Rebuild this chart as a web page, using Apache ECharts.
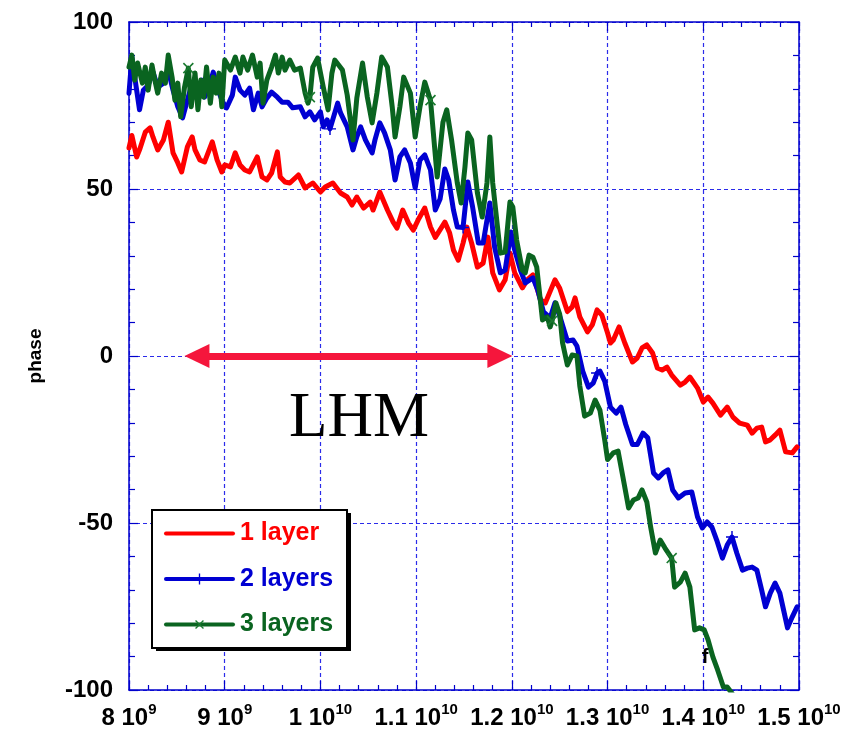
<!DOCTYPE html>
<html>
<head>
<meta charset="utf-8">
<script src="https://cdn.jsdelivr.net/npm/echarts@6/dist/echarts.min.js"></script>
<style>
  html, body { margin: 0; padding: 0; background: #ffffff; }
  #chart { width: 857px; height: 732px; }
</style>
</head>
<body>
<div id="chart"></div>
<script>
// Phase vs frequency for 1, 2 and 3 layers (frequencies in GHz, phase in degrees)
const freq1 = [8.00, 8.03, 8.08, 8.11, 8.17, 8.22, 8.25, 8.30, 8.36, 8.41, 8.46, 8.51, 8.55, 8.61, 8.66, 8.69, 8.74, 8.79, 8.87, 8.92, 8.97, 9.00, 9.06, 9.11, 9.16, 9.21, 9.26, 9.34, 9.39, 9.44, 9.49, 9.55, 9.58, 9.63, 9.68, 9.77, 9.84, 9.92, 10.00, 10.05, 10.13, 10.21, 10.28, 10.33, 10.38, 10.45, 10.52, 10.55, 10.62, 10.70, 10.76, 10.80, 10.86, 10.92, 10.97, 11.02, 11.09, 11.15, 11.20, 11.30, 11.35, 11.39, 11.44, 11.49, 11.53, 11.58, 11.64, 11.70, 11.75, 11.80, 11.87, 11.93, 11.98, 12.03, 12.11, 12.16, 12.22, 12.30, 12.35, 12.45, 12.50, 12.58, 12.63, 12.66, 12.71, 12.79, 12.84, 12.89, 12.94, 13.00, 13.03, 13.06, 13.12, 13.18, 13.26, 13.31, 13.36, 13.41, 13.47, 13.52, 13.57, 13.62, 13.67, 13.76, 13.81, 13.86, 13.94, 14.00, 14.05, 14.10, 14.18, 14.25, 14.31, 14.38, 14.46, 14.51, 14.56, 14.61, 14.65, 14.70, 14.75, 14.80, 14.86, 14.93, 14.98];
const phase1 = [62.3, 66.0, 59.6, 61.7, 67.0, 68.3, 65.6, 61.7, 64.7, 70.0, 60.8, 57.8, 55.1, 62.6, 65.6, 61.7, 58.7, 58.1, 64.1, 58.7, 55.1, 57.2, 56.6, 60.8, 57.2, 55.7, 55.1, 59.6, 53.6, 52.7, 54.8, 61.1, 53.6, 52.1, 51.8, 54.2, 50.3, 51.8, 49.1, 50.6, 51.8, 48.8, 47.6, 45.2, 47.6, 44.3, 46.1, 43.7, 49.1, 43.7, 40.1, 38.3, 43.7, 39.8, 37.7, 40.7, 44.3, 38.6, 35.5, 40.1, 36.8, 31.7, 28.7, 33.8, 38.6, 33.8, 26.6, 27.8, 35.6, 24.9, 19.8, 22.8, 30.8, 24.9, 20.4, 22.8, 24.3, 16.8, 15.9, 22.8, 20.3, 13.3, 14.7, 17.4, 11.7, 7.2, 9.3, 13.8, 12.3, 6.9, 3.9, 4.8, 8.7, 3.9, -1.8, -0.6, 2.4, 3.3, 0.9, -3.6, -4.2, -3.3, -5.7, -8.7, -7.8, -6.3, -9.6, -13.8, -12.3, -14.1, -17.7, -15.3, -18.3, -20.1, -20.7, -23.1, -21.6, -21.3, -25.7, -25.1, -23.7, -22.2, -28.7, -29.0, -27.2];

const freq2 = [8.00, 8.03, 8.06, 8.11, 8.15, 8.20, 8.25, 8.30, 8.36, 8.41, 8.46, 8.51, 8.56, 8.61, 8.66, 8.71, 8.76, 8.79, 8.85, 8.88, 8.93, 8.98, 9.02, 9.08, 9.11, 9.16, 9.21, 9.26, 9.30, 9.35, 9.39, 9.44, 9.49, 9.55, 9.60, 9.66, 9.71, 9.79, 9.84, 9.89, 9.94, 10.00, 10.03, 10.07, 10.10, 10.18, 10.21, 10.28, 10.34, 10.38, 10.42, 10.47, 10.54, 10.57, 10.62, 10.67, 10.73, 10.78, 10.83, 10.88, 10.94, 10.99, 11.04, 11.09, 11.15, 11.20, 11.25, 11.30, 11.34, 11.39, 11.43, 11.49, 11.54, 11.59, 11.65, 11.70, 11.77, 11.82, 11.88, 11.93, 11.99, 12.03, 12.09, 12.14, 12.22, 12.27, 12.33, 12.40, 12.45, 12.50, 12.58, 12.64, 12.68, 12.74, 12.80, 12.85, 12.89, 12.92, 12.97, 13.03, 13.09, 13.14, 13.19, 13.26, 13.31, 13.37, 13.42, 13.48, 13.53, 13.58, 13.63, 13.68, 13.74, 13.81, 13.88, 13.94, 13.99, 14.04, 14.09, 14.14, 14.20, 14.25, 14.30, 14.35, 14.41, 14.46, 14.51, 14.56, 14.61, 14.65, 14.70, 14.75, 14.80, 14.88, 14.93, 14.98];
const phase2 = [78.7, 89.5, 83.5, 73.7, 79.6, 81.1, 85.0, 80.5, 81.7, 85.6, 79.6, 74.6, 71.3, 76.6, 81.7, 78.1, 82.6, 77.5, 82.0, 85.0, 79.6, 76.0, 74.3, 78.1, 83.5, 79.6, 78.1, 80.2, 73.7, 78.7, 74.6, 77.2, 79.0, 77.5, 76.0, 76.0, 74.3, 74.6, 71.6, 73.1, 70.7, 73.1, 68.6, 70.7, 68.0, 75.7, 72.8, 68.6, 61.7, 65.6, 68.6, 64.7, 60.8, 64.7, 69.8, 66.8, 61.7, 52.7, 59.6, 61.7, 57.8, 50.3, 58.7, 60.2, 55.7, 43.7, 47.0, 56.0, 52.7, 43.7, 38.6, 38.5, 52.1, 44.6, 33.8, 33.8, 45.8, 32.6, 24.9, 25.7, 37.1, 31.7, 25.7, 21.9, 23.4, 19.8, 13.2, 11.4, 15.9, 12.0, 4.5, 4.8, 3.0, -4.5, -9.3, -8.1, -5.1, -4.5, -7.5, -15.3, -17.1, -15.3, -20.5, -26.5, -26.5, -23.1, -24.5, -35.0, -36.5, -35.0, -34.1, -40.1, -42.5, -41.0, -40.7, -48.2, -51.5, -49.7, -51.2, -55.1, -60.5, -56.6, -54.2, -59.0, -64.1, -63.5, -63.2, -64.1, -70.1, -75.1, -71.0, -68.0, -71.0, -81.4, -78.1, -75.1];

const freq3 = [8.00, 8.03, 8.06, 8.09, 8.14, 8.17, 8.20, 8.24, 8.27, 8.30, 8.34, 8.38, 8.41, 8.45, 8.48, 8.51, 8.54, 8.58, 8.62, 8.65, 8.69, 8.72, 8.75, 8.78, 8.81, 8.85, 8.88, 8.91, 8.94, 8.97, 9.00, 9.06, 9.11, 9.16, 9.19, 9.24, 9.29, 9.34, 9.37, 9.40, 9.44, 9.49, 9.53, 9.56, 9.60, 9.63, 9.68, 9.73, 9.79, 9.84, 9.87, 9.89, 9.92, 9.97, 10.03, 10.08, 10.12, 10.15, 10.23, 10.28, 10.34, 10.38, 10.44, 10.49, 10.54, 10.59, 10.64, 10.70, 10.75, 10.78, 10.83, 10.87, 10.94, 10.99, 11.04, 11.09, 11.15, 11.22, 11.28, 11.32, 11.37, 11.43, 11.47, 11.51, 11.54, 11.58, 11.64, 11.69, 11.74, 11.77, 11.80, 11.85, 11.88, 11.93, 11.98, 12.01, 12.05, 12.11, 12.14, 12.18, 12.22, 12.26, 12.32, 12.37, 12.40, 12.42, 12.46, 12.50, 12.53, 12.58, 12.63, 12.68, 12.71, 12.76, 12.82, 12.87, 12.92, 12.97, 13.00, 13.06, 13.11, 13.16, 13.22, 13.27, 13.32, 13.36, 13.41, 13.45, 13.50, 13.55, 13.60, 13.67, 13.70, 13.76, 13.81, 13.86, 13.91, 13.96, 14.01, 14.05, 14.10, 14.15, 14.21, 14.25, 14.30];
const phase3 = [86.5, 90.1, 82.6, 87.7, 81.7, 86.5, 79.6, 87.1, 82.6, 78.7, 84.7, 81.7, 90.1, 83.5, 76.6, 81.7, 71.6, 80.5, 86.2, 74.6, 84.7, 73.7, 82.6, 77.5, 86.5, 75.7, 83.5, 78.7, 84.7, 74.6, 88.6, 85.6, 89.5, 84.7, 89.5, 85.6, 90.1, 83.5, 87.7, 75.7, 82.6, 86.5, 90.1, 84.7, 89.5, 85.6, 88.6, 85.6, 86.2, 78.7, 75.7, 77.5, 86.5, 89.2, 80.5, 73.7, 84.7, 88.6, 85.6, 78.1, 64.7, 77.2, 87.7, 77.5, 69.8, 78.7, 89.5, 86.5, 74.6, 65.6, 74.6, 83.5, 78.7, 65.6, 74.6, 82.0, 76.6, 53.6, 70.0, 73.7, 64.7, 51.8, 45.8, 56.6, 66.8, 64.7, 48.8, 41.6, 51.8, 65.6, 51.8, 38.6, 30.8, 31.1, 46.1, 44.6, 34.7, 25.7, 24.9, 30.2, 29.6, 26.6, 10.8, 11.7, 8.7, 10.5, 15.9, 12.5, 3.9, -2.7, 0.3, 0.0, -9.0, -18.0, -17.1, -13.2, -16.2, -25.1, -31.0, -29.0, -28.5, -36.2, -45.5, -43.1, -42.5, -40.1, -43.7, -51.2, -59.0, -55.1, -57.5, -60.5, -69.2, -67.7, -65.0, -69.2, -82.0, -81.4, -82.0, -85.0, -90.1, -94.0, -99.1, -99.1, -101.0];

// Frequencies (GHz) carrying the series marker symbols
const marks2 = [8.71, 10.10, 11.49, 12.89, 14.30];
const marks3 = [8.62, 9.89, 11.15, 12.42, 13.67];

const seriesNames = ['1 layer', '2 layers', '3 layers'];
const seriesColors = ['#ff0000', '#0000d2', '#0a6420'];

// Axis ticks
const xTickMantissa = ['8', '9', '1', '1.1', '1.2', '1.3', '1.4', '1.5'];
const xTickExponent = ['9', '9', '10', '10', '10', '10', '10', '10'];
const yTicks = [-100, -50, 0, 50, 100];

// Double arrow shaft along phase = 0 (GHz) and its caption
const arrowShaft = [8.71, 11.875];
const arrowLabel = 'LHM';

const GHZ = 1e9;
const PLUS = 'path://M4.4,0H5.6V4.4H10V5.6H5.6V10H4.4V5.6H0V4.4H4.4Z';

function buildData(freqs, phases, marks) {
  return freqs.map((f, i) => {
    const point = [f * GHZ, phases[i]];
    if (marks && marks.some(m => Math.abs(m - f) < 1e-6)) return point;
    return { value: point, symbol: 'none' };
  });
}

const chart = echarts.init(document.getElementById('chart'), null, { renderer: 'canvas' });

const axisColor = '#0000cc';
const gridColor = '#2b2bea';
const font = 'Liberation Sans, Arial, sans-serif';

function xLabel(v) {
  const i = Math.round((v - 8 * GHZ) / GHZ);
  if (i < 0 || i >= xTickMantissa.length) return '';
  return '{b|' + xTickMantissa[i] + ' 10}{s|' + xTickExponent[i] + '}';
}

const commonX = {
  type: 'value', min: 8 * GHZ, max: 15 * GHZ, interval: GHZ,
  axisLine: { onZero: false, lineStyle: { color: axisColor, width: 1.5 } },
  axisTick: { inside: true, length: 9, lineStyle: { color: axisColor, width: 1.2 } },
  minorTick: { show: true, splitNumber: 5, length: 5, lineStyle: { color: axisColor, width: 1.2 } }
};
const commonY = {
  type: 'value', min: -100, max: 100, interval: 50,
  axisLine: { onZero: false, lineStyle: { color: axisColor, width: 1.5 } },
  axisTick: { inside: true, length: 9, lineStyle: { color: axisColor, width: 1.2 } },
  minorTick: { show: true, splitNumber: 5, length: 6, lineStyle: { color: axisColor, width: 1.2 } }
};

// Legend frame: white box with a hard black drop shadow
const legendBox = { x: 152, y: 510, width: 195, height: 138 };

const option = {
  backgroundColor: '#ffffff',
  animation: false,
  grid: { left: 129, top: 22, width: 670, height: 668, containLabel: false },
  xAxis: [
    Object.assign({}, commonX, {
      position: 'bottom',
      splitLine: { show: true, lineStyle: { color: gridColor, width: 1.2, type: [4, 3] } },
      axisLabel: {
        margin: 12,
        formatter: xLabel,
        rich: {
          b: { fontSize: 24, fontWeight: 'bold', fontFamily: font, color: '#000', lineHeight: 28, verticalAlign: 'bottom' },
          s: { fontSize: 15, fontWeight: 'bold', fontFamily: font, color: '#000', lineHeight: 16, verticalAlign: 'top' }
        }
      }
    }),
    Object.assign({}, commonX, {
      position: 'top',
      splitLine: { show: false },
      axisLabel: { show: false }
    })
  ],
  yAxis: [
    Object.assign({}, commonY, {
      position: 'left',
      name: 'phase',
      nameLocation: 'middle',
      nameGap: 84,
      nameTextStyle: { fontSize: 19, fontWeight: 'bold', fontFamily: font, color: '#000' },
      splitLine: { show: true, lineStyle: { color: gridColor, width: 1.2, type: [4, 3] } },
      axisLabel: {
        margin: 16, fontSize: 24, fontWeight: 'bold', fontFamily: font, color: '#000',
        formatter: v => (yTicks.indexOf(v) >= 0 ? String(v) : '')
      }
    }),
    Object.assign({}, commonY, {
      position: 'right',
      splitLine: { show: false },
      axisLabel: { show: false }
    })
  ],
  legend: {
    orient: 'vertical', left: legendBox.x, top: legendBox.y, z: 20,
    padding: [11, 12, 11, 12], itemGap: 20.5, itemWidth: 67, itemHeight: 14,
    backgroundColor: 'transparent', borderWidth: 0,
    selectedMode: false,
    lineStyle: { width: 4 },
    textStyle: { fontSize: 25, fontWeight: 'bold', fontFamily: font, lineHeight: 23, padding: [0, 0, 0, 2] },
    data: [
      { name: seriesNames[0], textStyle: { color: seriesColors[0] }, itemStyle: { opacity: 0 } },
      { name: seriesNames[1], textStyle: { color: seriesColors[1] } },
      { name: seriesNames[2], textStyle: { color: seriesColors[2] } }
    ]
  },
  graphic: [
    {
      type: 'rect', z: 15,
      shape: { x: legendBox.x + 4, y: legendBox.y + 3, width: legendBox.width, height: legendBox.height },
      style: { fill: '#000000' }
    },
    {
      type: 'rect', z: 16,
      shape: { x: legendBox.x, y: legendBox.y, width: legendBox.width, height: legendBox.height },
      style: { fill: '#ffffff', stroke: '#000000', lineWidth: 2 }
    },
    {
      type: 'text', x: 359, y: 419, z: 10,
      style: { text: arrowLabel, fontSize: 63, fontFamily: 'Liberation Serif, Times New Roman, serif', fill: '#000', align: 'center', verticalAlign: 'middle' }
    },
    {
      type: 'text', x: 705, y: 657, z: 10,
      style: { text: 'f', fontSize: 20, fontWeight: 'bold', fontFamily: font, fill: '#000', align: 'center', verticalAlign: 'middle' }
    }
  ],
  series: [
    {
      name: seriesNames[0], type: 'line', xAxisIndex: 0, yAxisIndex: 0,
      data: buildData(freq1, phase1, null),
      symbol: 'none', showSymbol: true, clip: true, z: 2,
      lineStyle: { color: seriesColors[0], width: 5, join: 'round', cap: 'round' },
      itemStyle: { color: seriesColors[0] },
      markLine: {
        silent: true, animation: false,
        symbol: ['triangle', 'triangle'], symbolSize: [24, 25],
        label: { show: false },
        lineStyle: { color: '#f5163c', width: 7, type: 'solid' },
        itemStyle: { color: '#f5163c' },
        emphasis: { disabled: true },
        data: [[{ coord: [arrowShaft[0] * GHZ, 0] }, { coord: [arrowShaft[1] * GHZ, 0] }]]
      }
    },
    {
      name: seriesNames[1], type: 'line', xAxisIndex: 0, yAxisIndex: 0,
      data: buildData(freq2, phase2, marks2),
      symbol: PLUS, symbolSize: 12, showSymbol: true, clip: true, z: 3,
      lineStyle: { color: seriesColors[1], width: 5, join: 'round', cap: 'round' },
      itemStyle: { color: seriesColors[1] }
    },
    {
      name: seriesNames[2], type: 'line', xAxisIndex: 0, yAxisIndex: 0,
      data: buildData(freq3, phase3, marks3),
      symbol: PLUS, symbolSize: 14, symbolRotate: 45, showSymbol: true, clip: true, z: 4,
      lineStyle: { color: seriesColors[2], width: 5, join: 'round', cap: 'round' },
      itemStyle: { color: '#1a7a30' }
    }
  ]
};

chart.setOption(option);
</script>
</body>
</html>
